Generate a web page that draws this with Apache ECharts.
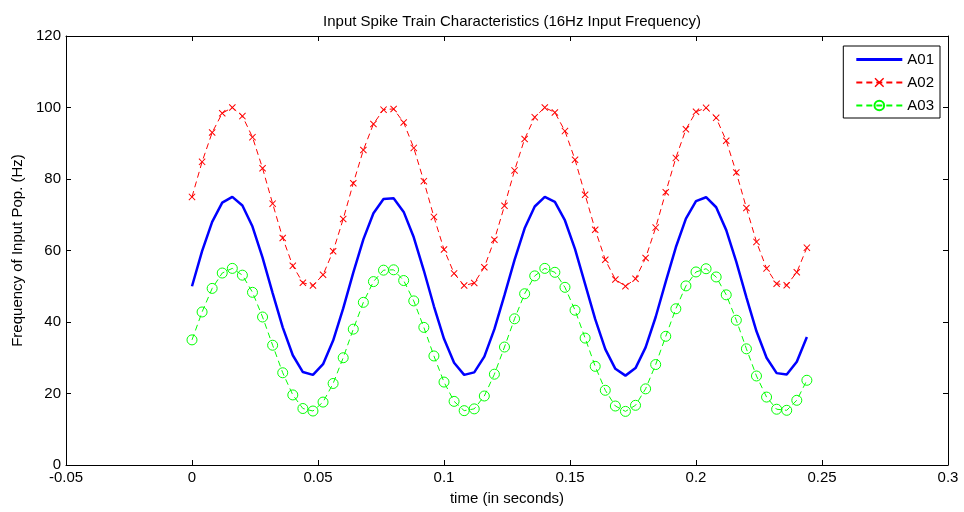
<!DOCTYPE html>
<html><head><meta charset="utf-8">
<script src="https://cdn.jsdelivr.net/npm/echarts@6/dist/echarts.min.js"></script>
<style>html,body{margin:0;padding:0;background:#fff}#c{width:964px;height:512px}</style>
</head><body><div id="c"></div>
<script>
const time = [0,0.004,0.008,0.012,0.016,0.02,0.024,0.028,0.032,0.036,0.04,0.044,0.048,0.052,0.056,0.06,0.064,0.068,0.072,0.076,0.08,0.084,0.088,0.092,0.096,0.1,0.104,0.108,0.112,0.116,0.12,0.124,0.128,0.132,0.136,0.14,0.144,0.148,0.152,0.156,0.16,0.164,0.168,0.172,0.176,0.18,0.184,0.188,0.192,0.196,0.2,0.204,0.208,0.212,0.216,0.22,0.224,0.228,0.232,0.236,0.24,0.244];
const a01 = [50.0,59.8,68.0,73.4,75.0,72.6,66.7,58.0,48.1,38.5,30.7,26.0,25.2,28.2,34.8,43.8,53.8,63.1,70.4,74.4,74.6,70.8,63.7,54.4,44.4,35.3,28.6,25.2,25.9,30.3,38.0,47.5,57.4,66.2,72.3,75.0,73.6,68.4,60.4,50.6,40.8,32.4,26.9,25.0,27.1,32.9,41.4,51.3,60.9,68.9,73.8,74.9,72.1,65.7,56.8,46.9,37.4,30.0,25.7,25.3,28.9,35.8];
const a02 = [75.0,84.8,93.0,98.4,100.0,97.6,91.7,83.0,73.1,63.5,55.7,51.0,50.2,53.2,59.8,68.8,78.8,88.1,95.4,99.4,99.6,95.8,88.7,79.4,69.4,60.3,53.6,50.2,50.9,55.3,63.0,72.5,82.4,91.2,97.3,100.0,98.6,93.4,85.4,75.6,65.8,57.4,51.9,50.0,52.1,57.9,66.4,76.3,85.9,93.9,98.8,99.9,97.1,90.7,81.8,71.9,62.4,55.0,50.7,50.3,53.9,60.8];
const a03 = [35.0,42.8,49.4,53.7,55.0,53.1,48.3,41.4,33.5,25.8,19.6,15.8,15.1,17.6,22.8,30.0,38.0,45.5,51.3,54.5,54.6,51.6,45.9,38.5,30.5,23.2,17.8,15.2,15.7,19.3,25.4,33.0,40.9,47.9,52.9,55.0,53.9,49.7,43.3,35.5,27.6,20.9,16.5,15.0,16.7,21.3,28.1,36.0,43.7,50.1,54.0,54.9,52.6,47.6,40.5,32.5,24.9,19.0,15.6,15.3,18.1,23.7];
const seriesNames = ['A01','A02','A03'];
const xTicks = {min:-0.05, max:0.3, interval:0.05};
const yTicks = {min:0, max:120, interval:20};

const FONT = '"Liberation Sans", Arial, sans-serif';
const FS = 15;
const pair = (xs, ys) => xs.map((x,i)=>[x, ys[i]]);
const chart = echarts.init(document.getElementById('c'), null, {renderer:'canvas'});
const axisLine = {show:true, onZero:false, lineStyle:{color:'#000', width:1}};
const tick = {show:true, inside:true, length:5, lineStyle:{color:'#000'}};
const X_PATH = 'path://M0,1L1,0L5,4L9,0L10,1L6,5L10,9L9,10L5,6L1,10L0,9L4,5Z';
chart.setOption({
  animation:false,
  textStyle:{fontFamily:FONT},
  title:{text:'Input Spike Train Characteristics (16Hz Input Frequency)', left:507, top:9, textAlign:'center',
    textStyle:{fontFamily:FONT, fontSize:FS, fontWeight:'normal', color:'#000'}},
  grid:{left:66, right:16, top:36, bottom:47, show:false},
  legend:{right:24, top:46, orient:'vertical', itemGap:8, itemWidth:46, itemHeight:12,
    backgroundColor:'#fff', borderColor:'#000', borderWidth:1, padding:[6,6,5,12],
    textStyle:{fontFamily:FONT, fontSize:FS, color:'#000'},
    data:[{name:'A01', icon:'path://M0,0L100,0L100,6L0,6Z', itemStyle:{color:'#0000ff'}}, 'A02', 'A03']},
  xAxis:[
    {type:'value', min:xTicks.min, max:xTicks.max, interval:xTicks.interval, name:'time (in seconds)', nameLocation:'middle', nameGap:26,
     nameTextStyle:{fontFamily:FONT, fontSize:FS, color:'#000'},
     axisLine, axisTick:tick, splitLine:{show:false},
     axisLabel:{color:'#000', fontFamily:FONT, fontSize:FS, margin:5}},
    {type:'value', position:'top', min:xTicks.min, max:xTicks.max, interval:xTicks.interval,
     axisLine, axisTick:tick, axisLabel:{show:false}, splitLine:{show:false}}
  ],
  yAxis:[
    {type:'value', min:yTicks.min, max:yTicks.max, interval:yTicks.interval, name:'Frequency of Input Pop. (Hz)', nameLocation:'middle', nameGap:41,
     nameTextStyle:{fontFamily:FONT, fontSize:FS, color:'#000'},
     axisLine, axisTick:tick, splitLine:{show:false},
     axisLabel:{color:'#000', fontFamily:FONT, fontSize:FS, margin:5}},
    {type:'value', position:'right', min:yTicks.min, max:yTicks.max, interval:yTicks.interval,
     axisLine, axisTick:tick, axisLabel:{show:false}, splitLine:{show:false}}
  ],
  series:[
    {name:'A01', type:'line', data:pair(time,a01), showSymbol:false, symbol:'none',
     lineStyle:{color:'#0000ff', width:2.5}, itemStyle:{color:'#0000ff'}},
    {name:'A02', type:'line', data:pair(time,a02), symbol:X_PATH, symbolSize:7,
     lineStyle:{color:'#ff0000', width:1, type:[6,4]}, itemStyle:{color:'#ff0000'}},
    {name:'A03', type:'line', data:pair(time,a03), symbol:'circle', symbolSize:10,
     lineStyle:{color:'#00ff00', width:1, type:[6,4]},
     itemStyle:{color:'rgba(0,0,0,0)', borderColor:'#00ff00', borderWidth:1}}
  ]
});
</script></body></html>
